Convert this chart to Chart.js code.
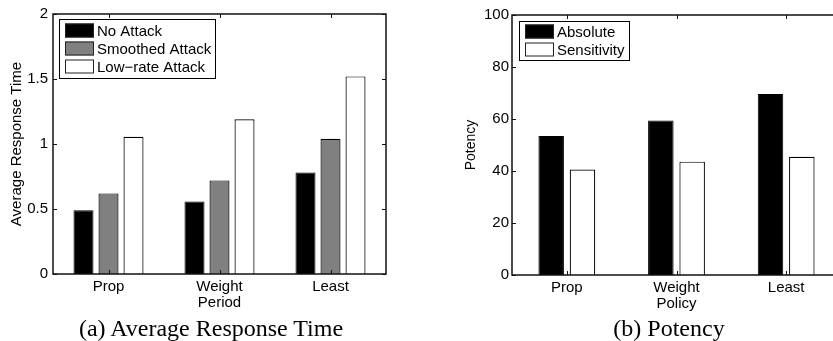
<!DOCTYPE html>
<html>
<head>
<meta charset="utf-8">
<script src="https://cdn.jsdelivr.net/npm/chart.js@4.4.0/dist/chart.umd.min.js"></script>
<style>
body { margin: 0; background: #fff; overflow: hidden; }
#wrap { position: relative; width: 833px; height: 341px; overflow: hidden; background: #fff; }
.panel { position: absolute; top: 0; }
.caption { position: absolute; top: 316px; font: 24px "Liberation Serif", "Times New Roman", serif; line-height: 24px; white-space: nowrap; transform: translateX(-50%); color: #000; }
</style>
</head>
<body>
<div id="wrap">
  <canvas id="timeChart" class="panel" width="420" height="341" style="left:0"></canvas>
  <canvas id="potencyChart" class="panel" width="440" height="341" style="left:420px"></canvas>
  <div class="caption" style="left:211px">(a) Average Response Time</div>
  <div class="caption" style="left:669px">(b) Potency</div>
</div>
<script>
// chart (a) values
const timeCategories = ['Prop', ['Weight', 'Period'], 'Least'];
const noAttack = [0.49, 0.557, 0.78];
const smoothedAttack = [0.62, 0.72, 1.04];
const lowRateAttack = [1.055, 1.19, 1.52];
const timeTicks = [0, 0.5, 1, 1.5, 2];

// chart (b) values
const potencyCategories = ['Prop', ['Weight', 'Policy'], 'Least'];
const absolute = [53.5, 59.4, 69.6];
const sensitivity = [40.6, 43.6, 45.5];
const potencyTicks = [0, 20, 40, 60, 80, 100];

const sans = '"Liberation Sans", Arial, Helvetica, sans-serif';

// matlab style box with inward ticks
const frameTicks = {
    id: 'frameTicks',
    afterDatasetsDraw(chart) {
        const ctx = chart.ctx;
        const a = chart.chartArea;
        const x = chart.scales.x, y = chart.scales.y;
        ctx.save();
        ctx.strokeStyle = '#111';
        ctx.lineWidth = 1.5;
        ctx.strokeRect(a.left, a.top, a.right - a.left, a.bottom - a.top);
        ctx.lineWidth = 1;
        ctx.beginPath();
        y.ticks.forEach(t => {
            const py = Math.round(y.getPixelForValue(t.value)) + 0.5;
            ctx.moveTo(a.left, py); ctx.lineTo(a.left + 4, py);
            ctx.moveTo(a.right, py); ctx.lineTo(a.right - 4, py);
        });
        x.ticks.forEach((t, i) => {
            const px = Math.round(x.getPixelForTick(i)) + 0.5;
            ctx.moveTo(px, a.bottom); ctx.lineTo(px, a.bottom - 4);
            ctx.moveTo(px, a.top); ctx.lineTo(px, a.top + 4);
        });
        ctx.stroke();
        ctx.restore();
    }
};

// legend drawn inside the plot, top left
const boxLegend = {
    id: 'boxLegend',
    afterDatasetsDraw(chart, args, opts) {
        const ctx = chart.ctx;
        const a = chart.chartArea;
        const sets = chart.data.datasets;
        ctx.save();
        ctx.font = '15px ' + sans;
        const textW = Math.max(...sets.map(d => ctx.measureText(d.label).width));
        const x = Math.round(a.left + opts.x), y = Math.round(a.top + opts.y);
        const w = Math.round(6 + 29 + 3 + textW + 4);
        const h = sets.length * 18 + opts.extra;
        ctx.fillStyle = '#fff';
        ctx.fillRect(x, y, w, h);
        ctx.strokeStyle = '#000';
        ctx.lineWidth = 1;
        ctx.strokeRect(x + 0.5, y + 0.5, w, h);
        sets.forEach((d, i) => {
            const cy = y + opts.extra / 2 + 9 + i * 18;
            ctx.fillStyle = d.backgroundColor;
            ctx.fillRect(x + 6, cy - 7, 29, 14);
            ctx.strokeStyle = '#222';
            ctx.strokeRect(x + 6.5, cy - 6.5, 28, 13);
            ctx.fillStyle = '#000';
            ctx.textBaseline = 'middle';
            ctx.fillText(d.label, x + 38, cy + 1);
        });
        ctx.restore();
    }
};

const makeScales = (ticks, max, title, titleSize, titlePad, tickPad, yWidth, xHeight) => ({
    x: {
        grid: { display: false, drawTicks: false },
        border: { display: false },
        ticks: { color: '#000', padding: 5, font: { family: sans, size: 15, lineHeight: 1.05 } },
        afterFit: s => { s.height = xHeight; }
    },
    y: {
        min: 0,
        max: max,
        grid: { display: false, drawTicks: false },
        border: { display: false },
        afterBuildTicks: s => { s.ticks = ticks.map(v => ({ value: v })); },
        ticks: { color: '#000', padding: tickPad, font: { family: sans, size: 15 }, callback: v => String(v) },
        title: { display: true, text: title, color: '#000', padding: { top: titlePad, bottom: 0 }, font: { family: sans, size: titleSize } },
        afterFit: s => { s.width = yWidth; }
    }
});

new Chart(document.getElementById('timeChart'), {
    type: 'bar',
    data: {
        labels: timeCategories,
        datasets: [
            { label: 'No Attack', data: noAttack, backgroundColor: '#000000', borderColor: '#000', borderWidth: 1 },
            { label: 'Smoothed Attack', data: smoothedAttack, backgroundColor: '#808080', borderColor: '#000', borderWidth: 1.2 },
            { label: 'Low\u2212rate Attack', data: lowRateAttack, backgroundColor: '#ffffff', borderColor: '#000', borderWidth: 1.2 }
        ]
    },
    options: {
        responsive: false,
        animation: false,
        categoryPercentage: 0.676,
        barPercentage: 0.8,
        layout: { padding: { top: 12, right: 34, left: 0, bottom: 0 } },
        scales: makeScales(timeTicks, 2, 'Average Response Time', 15, 8, 5, 53, 67),
        plugins: {
            legend: { display: false },
            tooltip: { enabled: false },
            boxLegend: { x: 6, y: 5, extra: 5 }
        }
    },
    plugins: [frameTicks, boxLegend]
});

new Chart(document.getElementById('potencyChart'), {
    type: 'bar',
    data: {
        labels: potencyCategories,
        datasets: [
            { label: 'Absolute', data: absolute, backgroundColor: '#000000', borderColor: '#000', borderWidth: 1 },
            { label: 'Sensitivity', data: sensitivity, backgroundColor: '#ffffff', borderColor: '#000', borderWidth: 1.2 }
        ]
    },
    options: {
        responsive: false,
        animation: false,
        categoryPercentage: 0.571,
        barPercentage: 0.815,
        layout: { padding: { top: 15, right: 19, left: 40, bottom: 0 } },
        scales: makeScales(potencyTicks, 100, 'Potency', 14, 3, 3, 52, 66),
        plugins: {
            legend: { display: false },
            tooltip: { enabled: false },
            boxLegend: { x: 7, y: 6, extra: 3 }
        }
    },
    plugins: [frameTicks, boxLegend]
});
</script>
</body>
</html>
